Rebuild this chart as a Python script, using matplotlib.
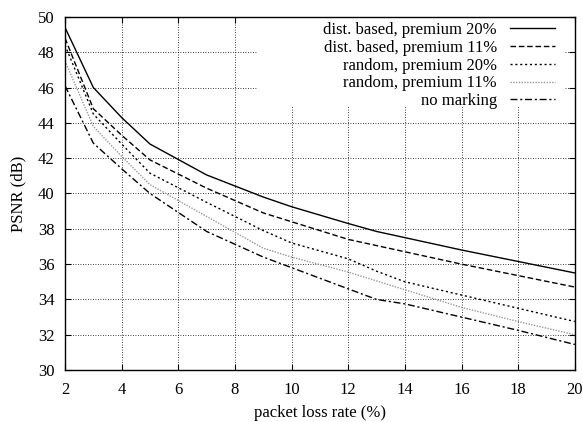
import matplotlib
matplotlib.use("Agg")
import matplotlib.pyplot as plt
from matplotlib.patches import Rectangle

plt.rcParams['font.family'] = ['Liberation Serif', 'DejaVu Serif']

# packet loss rate (%)
loss = [2, 3, 4, 5, 7, 9, 10, 12, 13, 14, 16, 18, 20]

dist_20 = [49.4, 46.0, 44.3, 42.8, 41.05, 39.8, 39.25, 38.3, 37.85, 37.5, 36.8, 36.15, 35.5]
dist_11 = [48.8, 44.8, 43.3, 41.9, 40.3, 38.9, 38.4, 37.4, 37.05, 36.7, 36.0, 35.35, 34.7]
rand_20 = [48.4, 44.5, 42.8, 41.15, 39.5, 37.9, 37.2, 36.3, 35.6, 35.0, 34.25, 33.5, 32.75]
rand_11 = [47.5, 43.8, 42.1, 40.5, 38.7, 36.9, 36.4, 35.55, 35.05, 34.55, 33.55, 32.75, 32.0]
no_mark = [46.1, 42.85, 41.4, 40.0, 37.85, 36.4, 35.8, 34.6, 34.0, 33.75, 33.0, 32.25, 31.45]

labels = ['dist. based, premium 20%', 'dist. based, premium 11%',
          'random, premium 20%', 'random, premium 11%', 'no marking']

fig = plt.figure(figsize=(5.83, 4.22), dpi=100)
ax = fig.add_axes([0.1115, 0.123, 0.8745, 0.837])
ax.set_axisbelow(True)

ax.plot(loss, dist_20, color='black', lw=1.0, ls='-', label=labels[0], zorder=3)
ax.plot(loss, dist_11, color='black', lw=1.0, ls=(0, (4, 2)), label=labels[1], zorder=3)
ax.plot(loss, rand_20, color='black', lw=1.0, ls=(0, (1.5, 2)), label=labels[2], zorder=3)
ax.plot(loss, rand_11, color='#999999', lw=1.0, ls=(0, (1, 1)), label=labels[3], zorder=3)
ax.plot(loss, no_mark, color='black', lw=1.0, ls=(0, (5, 2, 1.5, 2)), label=labels[4], zorder=3)

# gnuplot-style key box hides the grid behind it
ax.add_patch(Rectangle((0.378, 0.745), 0.602, 0.255, transform=ax.transAxes,
                       facecolor='white', edgecolor='none', zorder=1))

ax.set_xlim(2, 20)
ax.set_ylim(30, 50)
ax.set_xticks(range(2, 21, 2))
ax.set_yticks(range(30, 51, 2))
ax.grid(True, color='black', ls=(0, (1, 2)), lw=0.6, zorder=0.5)
ax.tick_params(direction='in', top=True, right=True, labelsize=12, length=4)
ax.tick_params(axis='x', pad=8.5)
ax.tick_params(axis='y', pad=7.5)
for s in ax.spines.values():
    s.set_linewidth(1.0)
    s.set_zorder(4)

ax.set_xlabel('packet loss rate (%)', fontsize=12, labelpad=5)
ax.set_ylabel('PSNR (dB)', fontsize=12, labelpad=8)

leg = ax.legend(loc='upper right', bbox_to_anchor=(0.968, 0.995), borderaxespad=0,
                borderpad=0.2, markerfirst=False, frameon=False, fontsize=12,
                handlelength=2.7, handletextpad=0.8, labelspacing=0.11)
for t in leg.get_texts():
    t.set_ha('right')

fig.savefig('out.png', dpi=100)
